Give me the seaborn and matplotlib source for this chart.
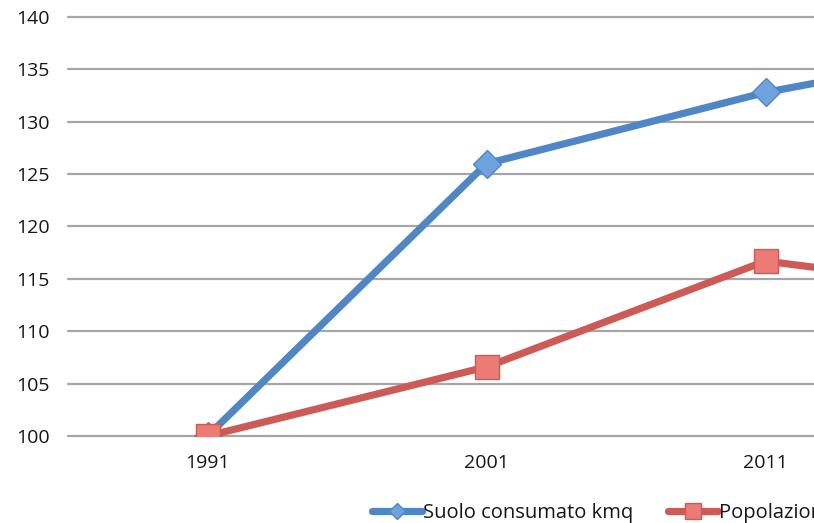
import matplotlib
matplotlib.use("Agg")
import matplotlib.pyplot as plt
import seaborn as sns
import pandas as pd
from matplotlib.lines import Line2D

# Index values (1991 = 100)
years = ["1991", "2001", "2011", "2016"]
suolo = [100.0, 126.0, 132.8, 137.8]
popolazione = [100.0, 106.6, 116.7, 113.3]
series_names = ["Suolo consumato kmq", "Popolazione residente"]
y_ticks = [100, 105, 110, 115, 120, 125, 130, 135, 140]

blue = "#4F86C6"
blue_marker = "#6FA3E0"
red = "#CD5A55"
red_marker = "#EC7B76"
grid_col = "#A6A6A6"
text_col = "#161616"

sns.set_theme(style="white")
plt.rcParams["font.family"] = ["Open Sans", "DejaVu Sans"]

df = pd.DataFrame({
    "pos": list(range(len(years))) * 2,
    "valore": suolo + popolazione,
    "serie": [series_names[0]] * len(years) + [series_names[1]] * len(years),
})

fig = plt.figure(figsize=(8.14, 5.23), dpi=100)
W, H = 814, 523
left_px, top_px, bottom_px = 68, 17, 436
ax = fig.add_axes([left_px / W, (H - bottom_px) / H, 1 - left_px / W, (bottom_px - top_px) / H])

styles = {
    series_names[0]: dict(color=blue, marker="D", markersize=14, markerfacecolor=blue_marker,
                          markeredgecolor=blue, markeredgewidth=1.0),
    series_names[1]: dict(color=red, marker="s", markersize=17, markerfacecolor=red_marker,
                          markeredgecolor=red, markeredgewidth=1.0),
}
for name in series_names:
    sub = df[df["serie"] == name]
    sns.lineplot(data=sub, x="pos", y="valore", ax=ax, linewidth=5.2,
                 legend=False, zorder=3, **styles[name])

ax.set_yticks(y_ticks)
ax.set_xticks(range(len(years)))
ax.set_xticklabels(years)
ax.set_xlabel("")
ax.set_ylabel("")

# category axis: first category half a slot from the left edge
px_per_cat = 279
ax.set_xlim(-0.5, -0.5 + (W - left_px) / px_per_cat)
ax.set_ylim(100, 140)

for s in ax.spines.values():
    s.set_visible(False)
for yv in y_ticks:
    ax.axhline(yv, color=grid_col, linewidth=1.6, zorder=1, clip_on=False)

ax.tick_params(axis="y", length=0, pad=13, labelsize=14, labelcolor=text_col)
ax.tick_params(axis="x", length=0, pad=13, labelsize=14, labelcolor=text_col)
for lbl in ax.get_yticklabels():
    lbl.set_horizontalalignment("right")

handles = [
    Line2D([], [], color=blue, linewidth=5.2, marker="D", markersize=8,
           markerfacecolor=blue_marker, markeredgecolor=blue),
    Line2D([], [], color=red, linewidth=5.2, marker="s", markersize=11,
           markerfacecolor=red_marker, markeredgecolor=red),
]
fig.legend(handles, series_names, loc="center left", bbox_to_anchor=(372 / W, 1 - 513 / H),
           ncol=2, frameon=False, fontsize=14.5, handlelength=2.5, handletextpad=0.05,
           columnspacing=1.7, labelcolor=text_col, borderaxespad=0, borderpad=0)

fig.savefig("out.png", dpi=100)
